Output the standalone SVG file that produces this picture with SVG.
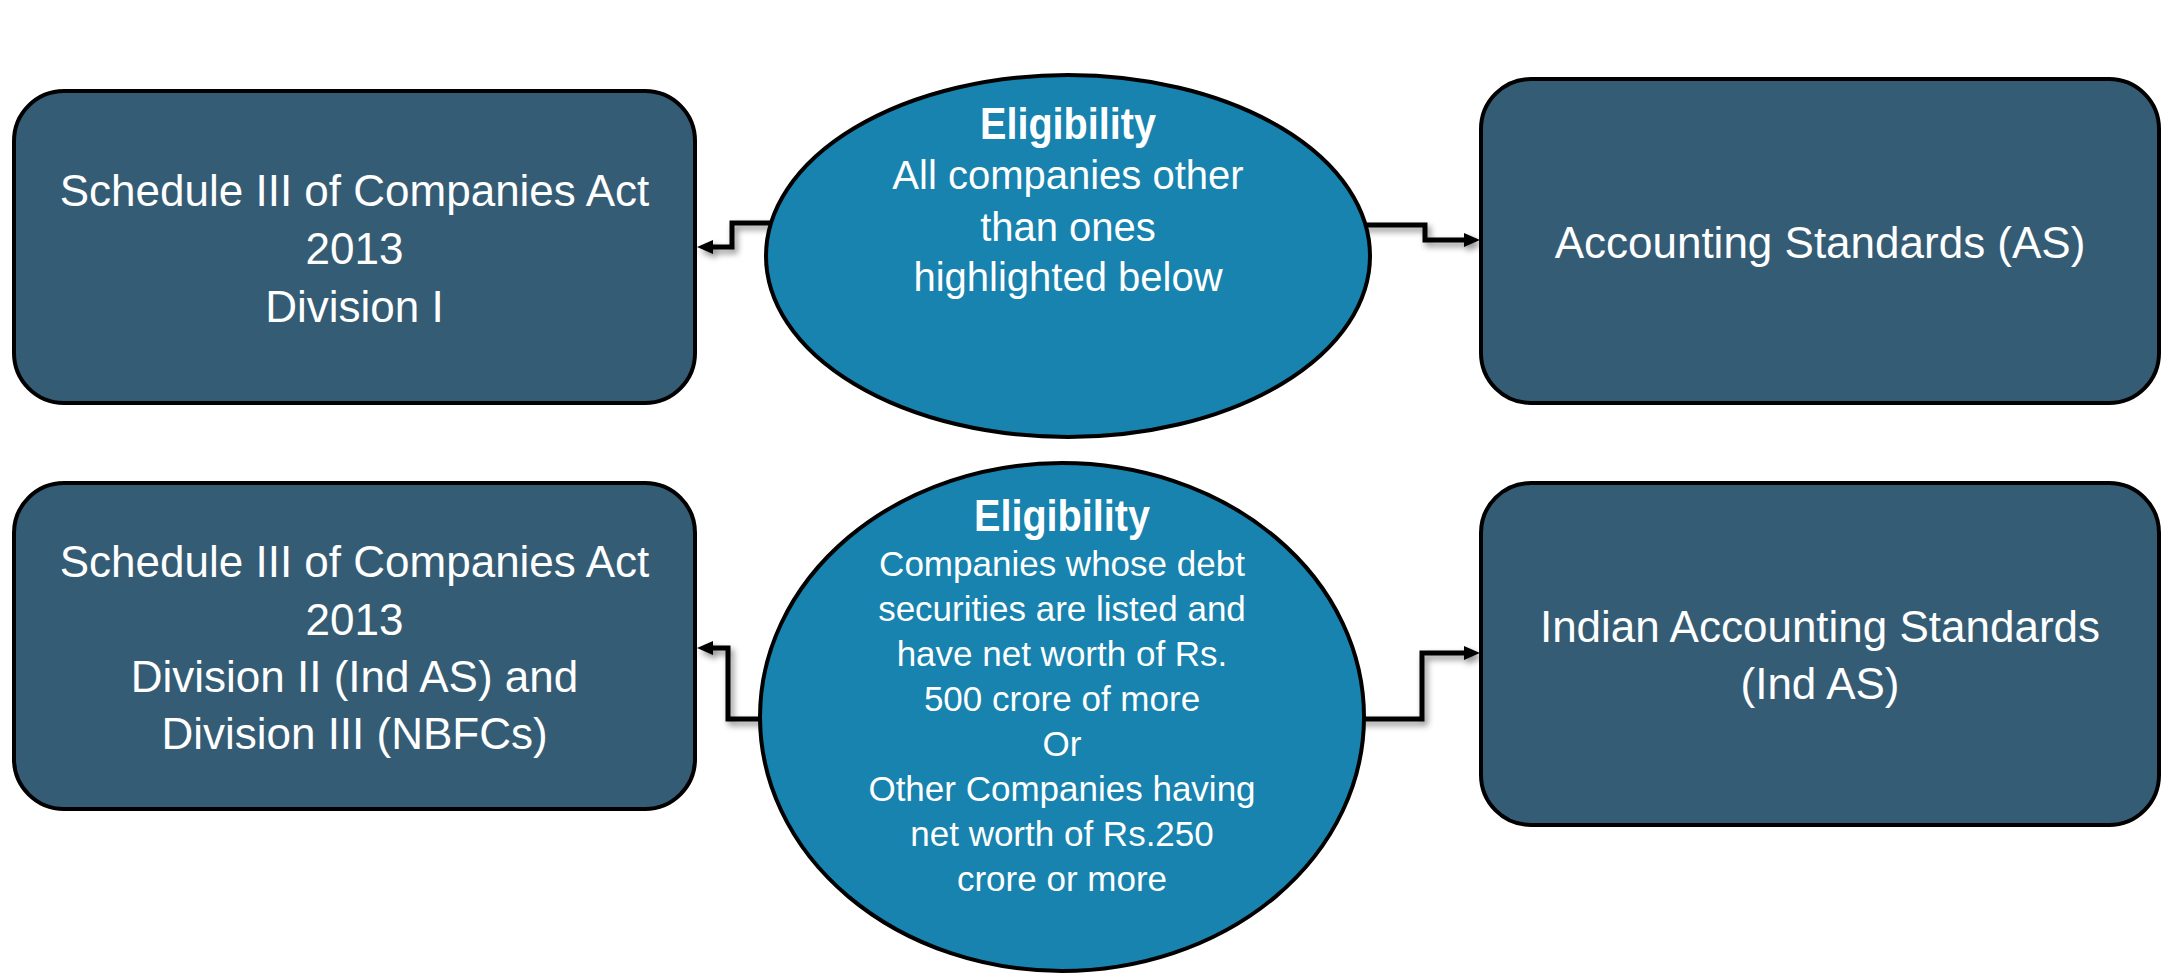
<svg xmlns="http://www.w3.org/2000/svg" width="2162" height="974" viewBox="0 0 2162 974">
<defs>
<style>
.box{fill:#355C75;stroke:#000;stroke-width:4}
.ell{fill:#1783AE;stroke:#000;stroke-width:4}
.t{font-family:"Liberation Sans",Arial,sans-serif;fill:#fff;text-anchor:middle}
.tb{font-size:44px}
.te{font-size:40px}
.ts{font-size:35px}
.h{font-size:45px;font-weight:bold}
.conn{fill:none;stroke:#000;stroke-width:5;stroke-linejoin:miter}
</style>
<filter id="sh" x="-20%" y="-20%" width="140%" height="140%">
<feDropShadow dx="3" dy="4" stdDeviation="3" flood-color="#000" flood-opacity="0.45"/>
</filter>
<marker id="arr" markerUnits="userSpaceOnUse" markerWidth="18" markerHeight="16" refX="0" refY="8" orient="auto">
<path d="M0,1 L16,8 L0,15 Z" fill="#000"/>
</marker>
</defs>
<rect width="2162" height="974" fill="#fff"/>
<g id="connectors" filter="url(#sh)">
<path class="conn" d="M785 223 H732 V247 H713" marker-end="url(#arr)"/>
<path class="conn" d="M1350 225 H1425 V240 H1464" marker-end="url(#arr)"/>
<path class="conn" d="M780 719 H728 V648 H713" marker-end="url(#arr)"/>
<path class="conn" d="M1345 719 H1422 V653 H1464" marker-end="url(#arr)"/>
</g>
<g id="node-schedule-div1">
<rect class="box" x="14" y="91" width="681" height="312" rx="50" ry="50"/>
<text class="t tb" x="354.5" y="206">Schedule III of Companies Act</text>
<text class="t tb" x="354.5" y="264">2013</text>
<text class="t tb" x="354.5" y="322">Division I</text>
</g>
<g id="node-eligibility-top">
<ellipse class="ell" cx="1068" cy="256" rx="302" ry="181"/>
<text class="t h" x="1068" y="139" textLength="176" lengthAdjust="spacingAndGlyphs">Eligibility</text>
<text class="t te" x="1068" y="189">All companies other</text>
<text class="t te" x="1068" y="241">than ones</text>
<text class="t te" x="1068" y="291">highlighted below</text>
</g>
<g id="node-as">
<rect class="box" x="1481" y="79" width="678" height="324" rx="50" ry="50"/>
<text class="t tb" x="1820" y="258">Accounting Standards (AS)</text>
</g>
<g id="node-schedule-div2">
<rect class="box" x="14" y="483" width="681" height="326" rx="50" ry="50"/>
<text class="t tb" x="354.5" y="577">Schedule III of Companies Act</text>
<text class="t tb" x="354.5" y="635">2013</text>
<text class="t tb" x="354.5" y="692">Division II (Ind AS) and</text>
<text class="t tb" x="354.5" y="749">Division III (NBFCs)</text>
</g>
<g id="node-eligibility-bottom">
<ellipse class="ell" cx="1062" cy="717" rx="302" ry="254"/>
<text class="t h" x="1062" y="531" textLength="176" lengthAdjust="spacingAndGlyphs">Eligibility</text>
<text class="t ts" x="1062" y="576">Companies whose debt</text>
<text class="t ts" x="1062" y="621">securities are listed and</text>
<text class="t ts" x="1062" y="666">have net worth of Rs.</text>
<text class="t ts" x="1062" y="711">500 crore of more</text>
<text class="t ts" x="1062" y="756">Or</text>
<text class="t ts" x="1062" y="801">Other Companies having</text>
<text class="t ts" x="1062" y="846">net worth of Rs.250</text>
<text class="t ts" x="1062" y="891">crore or more</text>
</g>
<g id="node-ind-as">
<rect class="box" x="1481" y="483" width="678" height="342" rx="50" ry="50"/>
<text class="t tb" x="1820" y="642">Indian Accounting Standards</text>
<text class="t tb" x="1820" y="699">(Ind AS)</text>
</g>
</svg>
